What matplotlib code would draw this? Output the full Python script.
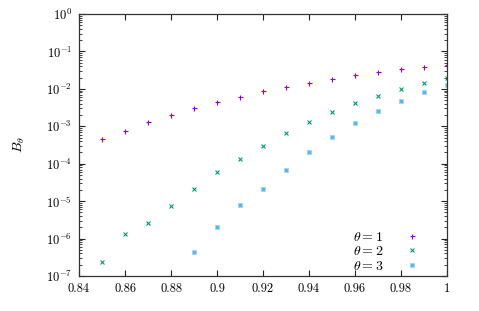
import matplotlib
matplotlib.use("Agg")
import matplotlib.pyplot as plt
import numpy as np
from matplotlib.ticker import LogLocator, LogFormatterMathtext, MultipleLocator, NullFormatter

plt.rcParams['font.family'] = 'serif'
plt.rcParams['font.serif'] = ['cmr10', 'DejaVu Serif']
plt.rcParams['mathtext.fontset'] = 'cm'
plt.rcParams['axes.formatter.use_mathtext'] = True

# values
x1 = [0.85, 0.86, 0.87, 0.88, 0.89, 0.90, 0.91, 0.92, 0.93, 0.94, 0.95, 0.96, 0.97, 0.98, 0.99, 1.00]
b1 = [4.5e-4, 7.6e-4, 1.27e-3, 2.0e-3, 3.0e-3, 4.4e-3, 6.1e-3, 8.7e-3, 1.12e-2, 1.45e-2,
      1.83e-2, 2.3e-2, 2.75e-2, 3.3e-2, 3.9e-2, 4.4e-2]
x2 = x1
b2 = [2.3e-7, 1.34e-6, 2.6e-6, 7.5e-6, 2.1e-5, 6.0e-5, 1.35e-4, 3.0e-4, 6.5e-4, 1.3e-3,
      2.4e-3, 4.1e-3, 6.6e-3, 9.8e-3, 1.44e-2, 1.95e-2]
x3 = [0.89, 0.90, 0.91, 0.92, 0.93, 0.94, 0.95, 0.96, 0.97, 0.98, 0.99, 1.00]
b3 = [4.3e-7, 2.0e-6, 8.1e-6, 2.1e-5, 6.9e-5, 2.0e-4, 5.2e-4, 1.22e-3, 2.55e-3, 4.8e-3, 8.3e-3, 1.3e-2]

fig = plt.figure(figsize=(4.79, 3.11), dpi=100)
ax = fig.add_axes([0.165, 0.1125, 0.768, 0.8425])

ax.plot(x1, b1, linestyle='none', marker='+', ms=3.6, mew=0.8, color='#9400d3', label=r'$\theta = 1$')
ax.plot(x2, b2, linestyle='none', marker='x', ms=3.0, mew=0.8, color='#009e73', label=r'$\theta = 2$')
ax.plot(x3, b3, linestyle='none', marker='s', ms=3.0, mew=0.8, mfc='#56b4e9', mec='#a6d6f3',
        color='#56b4e9', label=r'$\theta = 3$')

ax.set_yscale('log')
ax.set_xlim(0.84, 1.0)
ax.set_ylim(1e-7, 1e0)
ax.xaxis.set_major_locator(MultipleLocator(0.02))
ax.yaxis.set_major_locator(LogLocator(base=10, numticks=10))
ax.yaxis.set_major_formatter(LogFormatterMathtext())
ax.yaxis.set_minor_locator(LogLocator(base=10, subs=np.arange(2, 10), numticks=20))
ax.yaxis.set_minor_formatter(NullFormatter())

ax.tick_params(which='both', direction='in', top=True, right=True, labelsize=9, color='#222222')
ax.tick_params(which='major', length=4, width=0.8, pad=5)
ax.tick_params(which='minor', length=2, width=0.6)
ax.set_xticks([0.84, 0.86, 0.88, 0.9, 0.92, 0.94, 0.96, 0.98, 1.0])
ax.set_xticklabels(['0.84', '0.86', '0.88', '0.9', '0.92', '0.94', '0.96', '0.98', '1'])
for s in ax.spines.values():
    s.set_linewidth(0.9)
    s.set_color('#333333')

ax.set_ylabel(r'$B_\theta$', fontsize=10, labelpad=14)
ax.set_xlabel(r'$\theta$', fontsize=10, labelpad=14)

ax.legend(loc='lower right', frameon=False, markerfirst=False, fontsize=10,
          handlelength=1.0, handletextpad=1.6, labelspacing=0.1,
          borderaxespad=0.0, bbox_to_anchor=(0.94, -0.008))

fig.savefig('out.png', dpi=100)
